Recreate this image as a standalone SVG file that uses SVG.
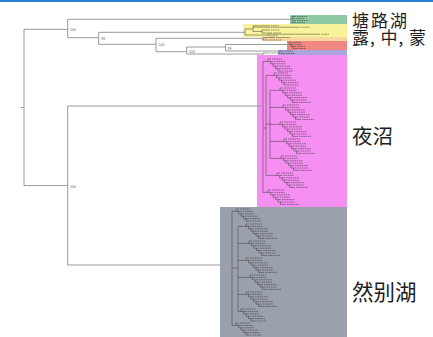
<svg xmlns="http://www.w3.org/2000/svg" xmlns:xlink="http://www.w3.org/1999/xlink" width="433" height="337" viewBox="0 0 433 337">
<style>
.br{fill:none;stroke:#9a9a9a;stroke-width:1}
.tr{fill:none;stroke:#3a3a3a;stroke-width:0.5}
.lb{fill:none;stroke:#2a2a2a;stroke-width:1;stroke-opacity:0.5;stroke-dasharray:1.6 0.6}
.cap{font-family:"Noto Sans CJK SC","Noto Sans CJK JP",sans-serif;fill:#1e1e1e}
.bs{font-family:"Liberation Sans",sans-serif;font-size:3.5px;fill:#666}
</style>
<defs>
<g id="comb7">
<path class="tr" d="M0 0V2.4H2.5V4.8H5V7.2H7.5V9.6H10V12H12.5V14.4H15M0 0h3M2.5 2.4h3M5 4.8h3M7.5 7.2h3M10 9.6h3M12.5 12h3M15 14.4h3"/>
<path class="lb" d="M4 0h12M6.5 2.4h10M9 4.8h13M11.5 7.2h11M14 9.6h13M16.5 12h10M19 14.4h12"/>
</g>
<g id="comb6">
<path class="tr" d="M0 0V2.4H2.5V4.8H5V7.2H7.5V9.6H10V12H12.5M0 0h3M2.5 2.4h3M5 4.8h3M7.5 7.2h3M10 9.6h3M12.5 12h3"/>
<path class="lb" d="M4 0h10M6.5 2.4h11M9 4.8h9M11.5 7.2h11M14 9.6h10M16.5 12h9"/>
</g>
<g id="comb4">
<path class="tr" d="M0 0V2H2V4H4V6H6M0 0h3M2 2h3M4 4h3M6 6h3"/>
<path class="lb" d="M4 0h8M6 2h7M8 4h8M10 6h7"/>
</g>
</defs>

<rect x="0" y="0" width="433" height="2" fill="#2a7fd4"/>

<g id="clade-tanglu">
<rect x="290" y="15" width="57" height="9" fill="#8fc9a2"/>
<path class="tr" d="M292 16.5V22.5M292 16.5h4M292 18.5h3M293 20.5h3M292 22.5h4"/>
<path class="lb" d="M297 16.5h10M296 18.5h9M297 20.5h11M297 22.5h8"/>
</g>

<g id="clade-lu-zhong-meng">
<rect x="243" y="24" width="104" height="13" fill="#f9f49c"/>
<rect x="262" y="37" width="85" height="4" fill="#f8d69e"/>
<rect x="287" y="41" width="60" height="9" fill="#f08783"/>
<rect x="278" y="50" width="69" height="5" fill="#aaa5dd"/>
<path class="tr" d="M245 29V35M245 29H253M253 25.8V31.5M253 25.8H270M253 27.2H300M253 31.5H262M262 30V33M262 30h8M262 33h10M245 35H268M268 34.2V35.8M268 34.2H320"/>
<path class="lb" d="M271 25.8h8M301 27.2h9M271 30h9M273 33h8M269 35.8h9M321 34.2h8"/>
<path class="tr" d="M263 37.5V40M263 37.5h12M263 40h5"/>
<path class="lb" d="M276 37.5h14M269 40h13"/>
<use href="#comb4" x="289" y="42.5"/>
<path class="tr" d="M279 51V53.5M279 51h5M279 53.5h6M263 53V56M263 53h6M263 56h8"/>
<path class="lb" d="M285 51h8M286 53.5h9M270 53h8M272 56h9"/>
</g>

<g id="labels-top">
<text class="cap" font-size="17"><tspan x="352" y="26.5" letter-spacing="2">塘路湖</tspan><tspan x="352" y="44" letter-spacing="1">露, 中, 蒙</tspan></text>
</g>

<g id="clade-yezhao">
<rect x="257" y="55" width="90" height="152" fill="#f68ff2"/>
<path class="tr" d="M263 61.4V192.4M263 61.4H268M263 128H266M266 75.4V175.4M266 75.4H274M266 124H270M266 175.4H277M270 90.4V158.4M270 90.4H280M270 107.4H283M270 124.4H280M270 141.4H284M270 158.4H281M263 192.4H268"/>
<use href="#comb6" x="268" y="59"/>
<use href="#comb6" x="274" y="73"/>
<use href="#comb7" x="280" y="88"/>
<use href="#comb7" x="283" y="105"/>
<use href="#comb7" x="280" y="122"/>
<use href="#comb7" x="284" y="139"/>
<use href="#comb7" x="281" y="156"/>
<use href="#comb7" x="277" y="173"/>
<use href="#comb7" x="268" y="190"/>
<text class="cap" x="352" y="143.5" font-size="20.5">夜沼</text>
</g>

<g id="clade-ranbie">
<rect x="220" y="207" width="127" height="130" fill="#9ba1ac"/>
<path class="tr" d="M232 211.4V325.4M232 211.4H236M232 268H238M232 325.4H236M238 226.4V311.4M238 226.4H246M238 243.4H249M238 260.4H246M238 277.4H250M238 294.4H246M238 311.4H241"/>
<use href="#comb6" x="236" y="209"/>
<use href="#comb7" x="246" y="224"/>
<use href="#comb7" x="249" y="241"/>
<use href="#comb7" x="246" y="258"/>
<use href="#comb7" x="250" y="275"/>
<use href="#comb7" x="246" y="292"/>
<use href="#comb6" x="241" y="309"/>
<use href="#comb6" x="236" y="323"/>
<text class="cap" x="352" y="300" font-size="21.5">然别湖</text>
</g>

<g id="connectors">
<path class="br" d="M21 107.5H24M24 29.3V185.6M24 29.3H67.7M67.7 19.3V37.7M67.7 19.3H292M67.7 37.7H98.7M98.7 32.3V44.3M98.7 32.3H245M98.7 44.3H156M156 38.3V51.7M156 38.3H263M156 51.7H186.7M186.7 47V54M186.7 47H225.5M186.7 54H263M225.5 44.5V51M225.5 44.5H289M225.5 51H279M24 185.6H67.7M67.7 106V265M67.7 106H263M67.7 265H232"/>
<text class="bs" x="70" y="31">100</text>
<text class="bs" x="101" y="40">98</text>
<text class="bs" x="158.5" y="46">100</text>
<text class="bs" x="189" y="53">100</text>
<text class="bs" x="227.5" y="49.5">99</text>
<text class="bs" x="70" y="187.5">100</text>
</g>
</svg>
